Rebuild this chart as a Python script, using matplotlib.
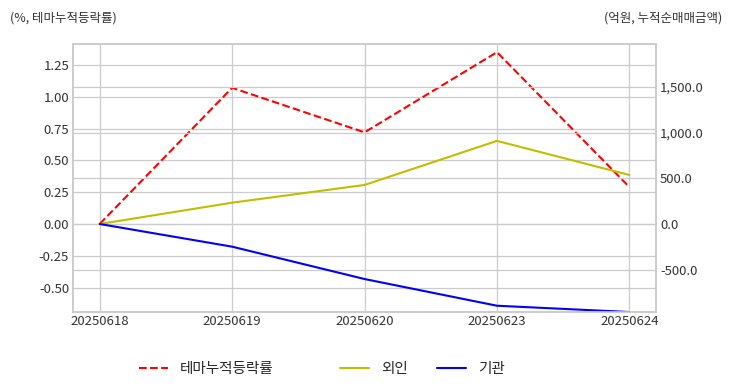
import matplotlib.pyplot as plt
import matplotlib.ticker as mticker

# data
dates = ['20250618', '20250619', '20250620', '20250623', '20250624']
theme_rate = [0.0, 1.07, 0.72, 1.35, 0.29]       # %, 테마누적등락률
foreign = [0.0, 233.0, 427.0, 909.0, 536.0]      # 억원, 외인
institution = [0.0, -248.0, -602.0, -894.0, -963.0]  # 억원, 기관

plt.style.use('seaborn-v0_8-whitegrid')
plt.rcParams['font.family'] = ['Noto Sans CJK KR', 'DejaVu Sans']
plt.rcParams['axes.unicode_minus'] = False

fig, ax1 = plt.subplots(figsize=(7.32, 3.92), dpi=100)
fig.subplots_adjust(left=0.1, right=0.896, top=0.888, bottom=0.204)

x = range(len(dates))
l1, = ax1.plot(x, theme_rate, color='r', linestyle='--', lw=1.5,
               label='테마누적등락률')
ax1.set_ylim(-0.692, 1.415)
ax1.yaxis.set_major_locator(mticker.MultipleLocator(0.25))
ax1.yaxis.set_major_formatter(mticker.FormatStrFormatter('%.2f'))
ax1.set_xticks(list(x))
ax1.set_xticklabels(dates)

ax2 = ax1.twinx()
l2, = ax2.plot(x, foreign, color='y', lw=1.5, label='외인')
l3, = ax2.plot(x, institution, color='b', lw=1.5, label='기관')
ax2.set_ylim(-963, 1970)
ax2.yaxis.set_major_locator(mticker.MultipleLocator(500))
ax2.yaxis.set_major_formatter(mticker.StrMethodFormatter('{x:,.1f}'))

for ax in (ax1, ax2):
    ax.tick_params(labelsize=9.5, colors='#333333', pad=3)
    for sp in ax.spines.values():
        sp.set_color('#cccccc')
        sp.set_linewidth(1.2)
        sp.set_visible(True)
    ax.grid(True, color='#cccccc', lw=0.9)
ax1.tick_params(axis='x', pad=2)

fig.text(0.013, 0.955, '(%, 테마누적등락률)', fontsize=9, color='#333333',
         ha='left', va='center')
fig.text(0.986, 0.955, '(억원, 누적순매매금액)', fontsize=9, color='#333333',
         ha='right', va='center')

leg1 = fig.legend(handles=[l1], loc='center', bbox_to_anchor=(0.282, 0.058),
                  frameon=False, fontsize=10.5, handlelength=2.0)
leg2 = fig.legend(handles=[l2, l3], loc='center', ncol=2,
                  bbox_to_anchor=(0.577, 0.058), frameon=False,
                  fontsize=10.5, handlelength=2.0, columnspacing=2.0)

fig.savefig('out.png', dpi=100)
